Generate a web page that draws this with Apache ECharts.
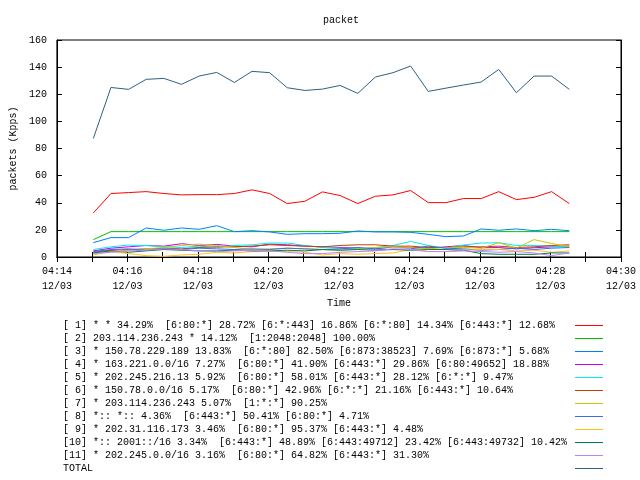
<!DOCTYPE html>
<html>
<head>
<meta charset="utf-8">
<script src="https://cdn.jsdelivr.net/npm/echarts@6/dist/echarts.min.js"></script>
<style>html,body{margin:0;padding:0;background:#fff;}#c{width:640px;height:480px;}</style>
</head>
<body>
<div id="c"></div>
<script>
var times = ['04:15:02','04:15:32','04:16:02','04:16:32','04:17:02','04:17:32','04:18:02','04:18:32','04:19:02','04:19:32',
             '04:20:02','04:20:32','04:21:02','04:21:32','04:22:02','04:22:32','04:23:02','04:23:32','04:24:02','04:24:32',
             '04:25:02','04:25:32','04:26:02','04:26:32','04:27:02','04:27:32','04:28:02','04:28:32'];
var xTickLabels = ['04:14','04:16','04:18','04:20','04:22','04:24','04:26','04:28','04:30'];
var dateLabel = '12/03';
var names = [
  '[ 1] * * 34.29%  [6:80:*] 28.72% [6:*:443] 16.86% [6:*:80] 14.34% [6:443:*] 12.68%',
  '[ 2] 203.114.236.243 * 14.12%  [1:2048:2048] 100.00%',
  '[ 3] * 150.78.229.189 13.83%  [6:*:80] 82.50% [6:873:38523] 7.69% [6:873:*] 5.68%',
  '[ 4] * 163.221.0.0/16 7.27%  [6:80:*] 41.90% [6:443:*] 29.86% [6:80:49652] 18.88%',
  '[ 5] * 202.245.216.13 5.92%  [6:80:*] 58.01% [6:443:*] 28.12% [6:*:*] 9.47%',
  '[ 6] * 150.78.0.0/16 5.17%  [6:80:*] 42.96% [6:*:*] 21.16% [6:443:*] 10.64%',
  '[ 7] * 203.114.236.243 5.07%  [1:*:*] 90.25%',
  '[ 8] *:: *:: 4.36%  [6:443:*] 50.41% [6:80:*] 4.71%',
  '[ 9] * 202.31.116.173 3.46%  [6:80:*] 95.37% [6:443:*] 4.48%',
  '[10] *:: 2001::/16 3.34%  [6:443:*] 48.89% [6:443:49712] 23.42% [6:443:49732] 10.42%',
  '[11] * 202.245.0.0/16 3.16%  [6:80:*] 64.82% [6:443:*] 31.30%',
  'TOTAL'
];
var colors = ['#ff0000','#00c000','#0080ff','#c000ff','#00eeee','#c04000','#c8c800','#4169e1','#ffc020','#008040','#c080ff','#306080'];

var s1 = [32.5,46.8,47.5,48.2,46.8,45.8,46,46,46.8,49.5,46.8,39.4,41.1,48,45.3,39.4,44.8,45.8,49,40.1,40.1,43.1,43.1,48.2,42.3,44,48.2,39.4];
var s2 = [12.8,18.7,18.7,18.7,18.7,18.7,18.7,18.7,18.7,18.7,18.7,18.7,18.7,18.7,18.7,18.7,18.7,18.7,18.7,18.7,18.7,18.7,18.7,18.7,18.7,18.7,18.7,18.7];
var s3 = [10.6,14.3,14.3,21.4,19.7,21.4,20.4,23.1,18.7,19.4,18.5,16.7,17.2,17.2,17.5,19.2,18.5,18.5,18.2,16.7,15,15.5,20.7,19.7,20.7,19.4,20.4,19.4];
var s4 = [4.5,6.5,7.5,8.5,8,9.8,8.5,9.3,8,7.5,9.5,9,8,7.5,7,6.5,6,7.5,7,6.5,7.5,8.5,6.8,7,6,6.8,7.5,8];
var s5 = [5.5,7.5,8.8,8.5,7.5,7,8,7,8.5,9,10.3,10.3,8.5,7,6.5,6,7,8.5,11.5,8.5,6.5,8.8,10.3,10.5,8.5,8.5,8,7.5];
var s6 = [3.5,5,5.5,6,6.5,6,7,7.5,7.5,8,9,8.5,8,7.5,8.5,9,9,8,8,7,7,7.5,7.5,8,7,7.5,8.5,9];
var s7 = [3,4,5,6,7,8.5,9.5,8.5,7,5.5,6,6.5,6,5.5,5,6,7,7.5,7,6,7,7,6.5,10.5,6.5,12.8,10,7.5];
var s8 = [4,5.5,6,5,6,5.5,6.5,6,5.5,6,5.5,6.5,6,5.5,6,7,6,5.5,6,8,6.5,6,5,5.5,6.5,5.5,6.5,7];
var s9 = [1.5,4,2.5,1,0.5,1.5,2,3.5,3,4,4.5,4,3.5,1.5,2.5,2,2.5,3,5.5,4,4,5,5.5,5.5,4.5,5,3.5,4.5];
var s10 = [3,4.5,3.5,4.5,5.5,5,4.5,4.5,5,4.5,4.5,5,4.5,5.5,5,5.5,5,5.5,5,5.5,5.5,5,2.5,2,2,2,3,3];
var s11 = [2.5,3.5,4.5,5,6,5.5,4.5,4,4.5,5,4.5,3.5,2.5,2.5,3.5,4,4.5,6,5.5,4,4,4.5,4,3.5,4,3,1,3];
var total = [87.4,125,123.6,131,131.7,127.3,133.4,136.1,128.7,136.9,135.9,124.8,122.8,123.8,126.5,120.6,132.7,135.9,140.8,122.1,124.5,126.8,129,138.3,121.1,133.4,133.4,123.6];

var allSeries = [s1,s2,s3,s4,s5,s6,s7,s8,s9,s10,s11,total];

function minutesOf(t){ var p=t.split(':'); return (+p[1]) + (+p[2])/60; }

var FONT = 'Liberation Mono';
var series = allSeries.map(function(arr, k){
  return {
    name: names[k], type: 'line', symbol: 'none', showSymbol: false,
    lineStyle: {width: 1, color: colors[k]}, itemStyle: {color: colors[k]},
    animation: false,
    data: arr.map(function(v,i){ return [minutesOf(times[i]), v]; })
  };
});

var labelMap = {};
xTickLabels.forEach(function(l){ labelMap[+l.split(':')[1]] = l + '\n' + dateLabel; });

var chart = echarts.init(document.getElementById('c'), null, {renderer:'canvas'});
chart.setOption({
  backgroundColor: '#fff',
  animation: false,
  title: {text: 'packet', left: 336, top: 10, textAlign: 'center',
          textStyle: {fontFamily: FONT, fontSize: 10, fontWeight: 'normal', color: '#000'}},
  grid: {left: 52, top: 40, right: 19, bottom: 223, show: true, borderColor: '#000', borderWidth: 1},
  xAxis: [{
    type: 'value', min: 14, max: 30, interval: 1, position: 'bottom',
    name: 'Time', nameLocation: 'middle', nameGap: 41,
    nameTextStyle: {fontFamily: FONT, fontSize: 10, color: '#000'},
    axisLine: {lineStyle: {color: '#000'}},
    axisTick: {inside: true, length: 5, lineStyle: {color: '#000'}},
    splitLine: {show: false},
    axisLabel: {fontFamily: FONT, fontSize: 10, color: '#000', margin: 7, lineHeight: 15,
      formatter: function(v){ return labelMap[v] || ''; }}
  },{
    type: 'value', min: 14, max: 30, interval: 1, position: 'top',
    axisLine: {lineStyle: {color: '#000'}},
    axisTick: {inside: true, length: 5, lineStyle: {color: '#000'}},
    splitLine: {show: false}, axisLabel: {show: false}
  }],
  yAxis: [{
    type: 'value', min: 0, max: 160, interval: 20, position: 'left',
    name: 'packets (Kpps)', nameLocation: 'middle', nameGap: 38, nameRotate: 90,
    nameTextStyle: {fontFamily: FONT, fontSize: 10, color: '#000'},
    axisLine: {show: true, lineStyle: {color: '#000'}},
    axisTick: {show: true, inside: true, length: 5, lineStyle: {color: '#000'}},
    splitLine: {show: false},
    axisLabel: {fontFamily: FONT, fontSize: 10, color: '#000', margin: 10}
  },{
    type: 'value', min: 0, max: 160, interval: 20, position: 'right',
    axisLine: {show: true, lineStyle: {color: '#000'}},
    axisTick: {show: true, inside: true, length: 5, lineStyle: {color: '#000'}},
    splitLine: {show: false}, axisLabel: {show: false}
  }],
  legend: {
    orient: 'vertical', left: 63, top: 319, align: 'right',
    itemWidth: 28, itemHeight: 13, itemGap: 0, selectedMode: false,
    padding: 0,
    itemStyle: {opacity: 0},
    lineStyle: {width: 1},
    formatter: function(n){ return '{t|' + n + '}'; },
    textStyle: {fontFamily: FONT, fontSize: 10, color: '#000',
      rich: {t: {fontFamily: FONT, fontSize: 10, color: '#000', width: 507, height: 13, lineHeight: 13, align: 'left'}}},
    data: names.map(function(n, k){
      return {name: n, lineStyle: {color: colors[k], width: 1, opacity: 1}, itemStyle: {color: colors[k], opacity: 0}};
    })
  },
  series: series
});
</script>
</body>
</html>
